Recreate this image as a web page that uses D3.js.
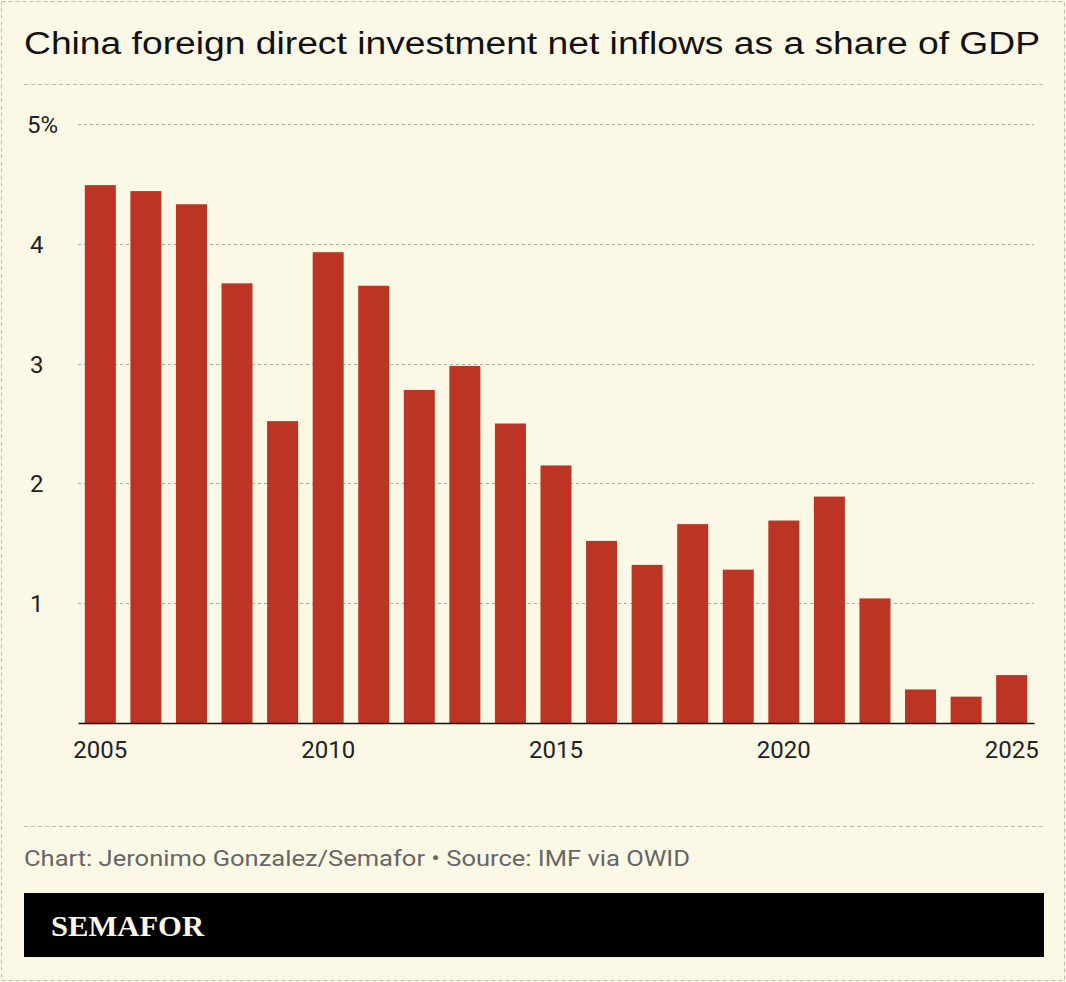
<!DOCTYPE html>
<html><head><meta charset="utf-8">
<script src="https://cdn.jsdelivr.net/npm/d3@7"></script>
<style>
body{margin:0;background:#fcf8e6}
svg{display:block}
</style></head>
<body>
<script>
// data
const years = d3.range(2005, 2026)
const values = [4.49, 4.44, 4.33, 3.67, 2.52, 3.93, 3.65, 2.78, 2.98, 2.50, 2.15, 1.52, 1.32, 1.66, 1.28, 1.69, 1.89, 1.04, 0.28, 0.22, 0.40]
const yTicks = [1, 2, 3, 4, 5]
const xTicks = [2005, 2010, 2015, 2020, 2025]

const W = 1066, H = 982
const svg = d3.select("body").append("svg").attr("width", W).attr("height", H)

svg.append("rect").attr("x", 1.5).attr("y", 1.5).attr("width", W - 3).attr("height", H - 3)
    .attr("fill", "#fcf8e6").attr("stroke", "#bdbaa8").attr("stroke-dasharray", "4,3")

svg.append("text").attr("x", 24).attr("y", 54)
    .attr("font-family", "Liberation Sans, Arial").attr("font-size", 31).attr("fill", "#111")
    .attr("textLength", 1016).attr("lengthAdjust", "spacingAndGlyphs")
    .text("China foreign direct investment net inflows as a share of GDP")

const dash = (y) => svg.append("line").attr("x1", 24).attr("x2", 1044).attr("y1", y).attr("y2", y)
    .attr("stroke", "#bdbaa8").attr("stroke-dasharray", "4,3")
dash(84.5)
dash(826.5)

const x = d3.scaleBand().domain(years).range([78, 1034]).paddingInner(0.32).paddingOuter(0.15)
const y = d3.scaleLinear().domain([0, 5]).range([723, 124])

const grid = svg.append("g")
grid.selectAll("line").data(yTicks).enter().append("line")
    .attr("x1", 78).attr("x2", 1034).attr("y1", d => Math.round(y(d)) + 0.5).attr("y2", d => Math.round(y(d)) + 0.5)
    .attr("stroke", "#a9a79c").attr("stroke-dasharray", "3,3")
grid.selectAll("text").data(yTicks).enter().append("text")
    .attr("x", d => d === 5 ? 27 : 30).attr("y", d => y(d) + 9)
    .attr("font-family", "Roboto, sans-serif").attr("font-size", 24).attr("fill", "#222")
    .text(d => d === 5 ? "5%" : d)

svg.append("g").selectAll("rect").data(years).enter().append("rect")
    .attr("x", d => x(d)).attr("width", x.bandwidth())
    .attr("y", (d, i) => y(values[i])).attr("height", (d, i) => y(0) - y(values[i]))
    .attr("fill", "#bc3423")

const xAxis = d3.axisBottom(x).tickValues(xTicks).tickSize(0).tickPadding(18)
const gx = svg.append("g").attr("transform", "translate(0,723)").call(xAxis)
gx.select(".domain").attr("stroke", "#111").attr("stroke-width", 1.5)
gx.selectAll("text").attr("font-family", "Roboto, sans-serif").attr("font-size", 24).attr("fill", "#222")

svg.append("text").attr("x", 24).attr("y", 866)
    .attr("font-family", "Roboto, sans-serif").attr("font-size", 22).attr("fill", "#666")
    .attr("textLength", 666).attr("lengthAdjust", "spacingAndGlyphs")
    .text("Chart: Jeronimo Gonzalez/Semafor • Source: IMF via OWID")

svg.append("rect").attr("x", 24).attr("y", 893).attr("width", 1020).attr("height", 64).attr("fill", "#000")
svg.append("text").attr("x", 51).attr("y", 936)
    .attr("font-family", "Liberation Serif, serif").attr("font-weight", "bold").attr("font-size", 29)
    .attr("fill", "#fcf8e6").attr("textLength", 153).attr("lengthAdjust", "spacingAndGlyphs").text("SEMAFOR")
</script>
</body></html>
